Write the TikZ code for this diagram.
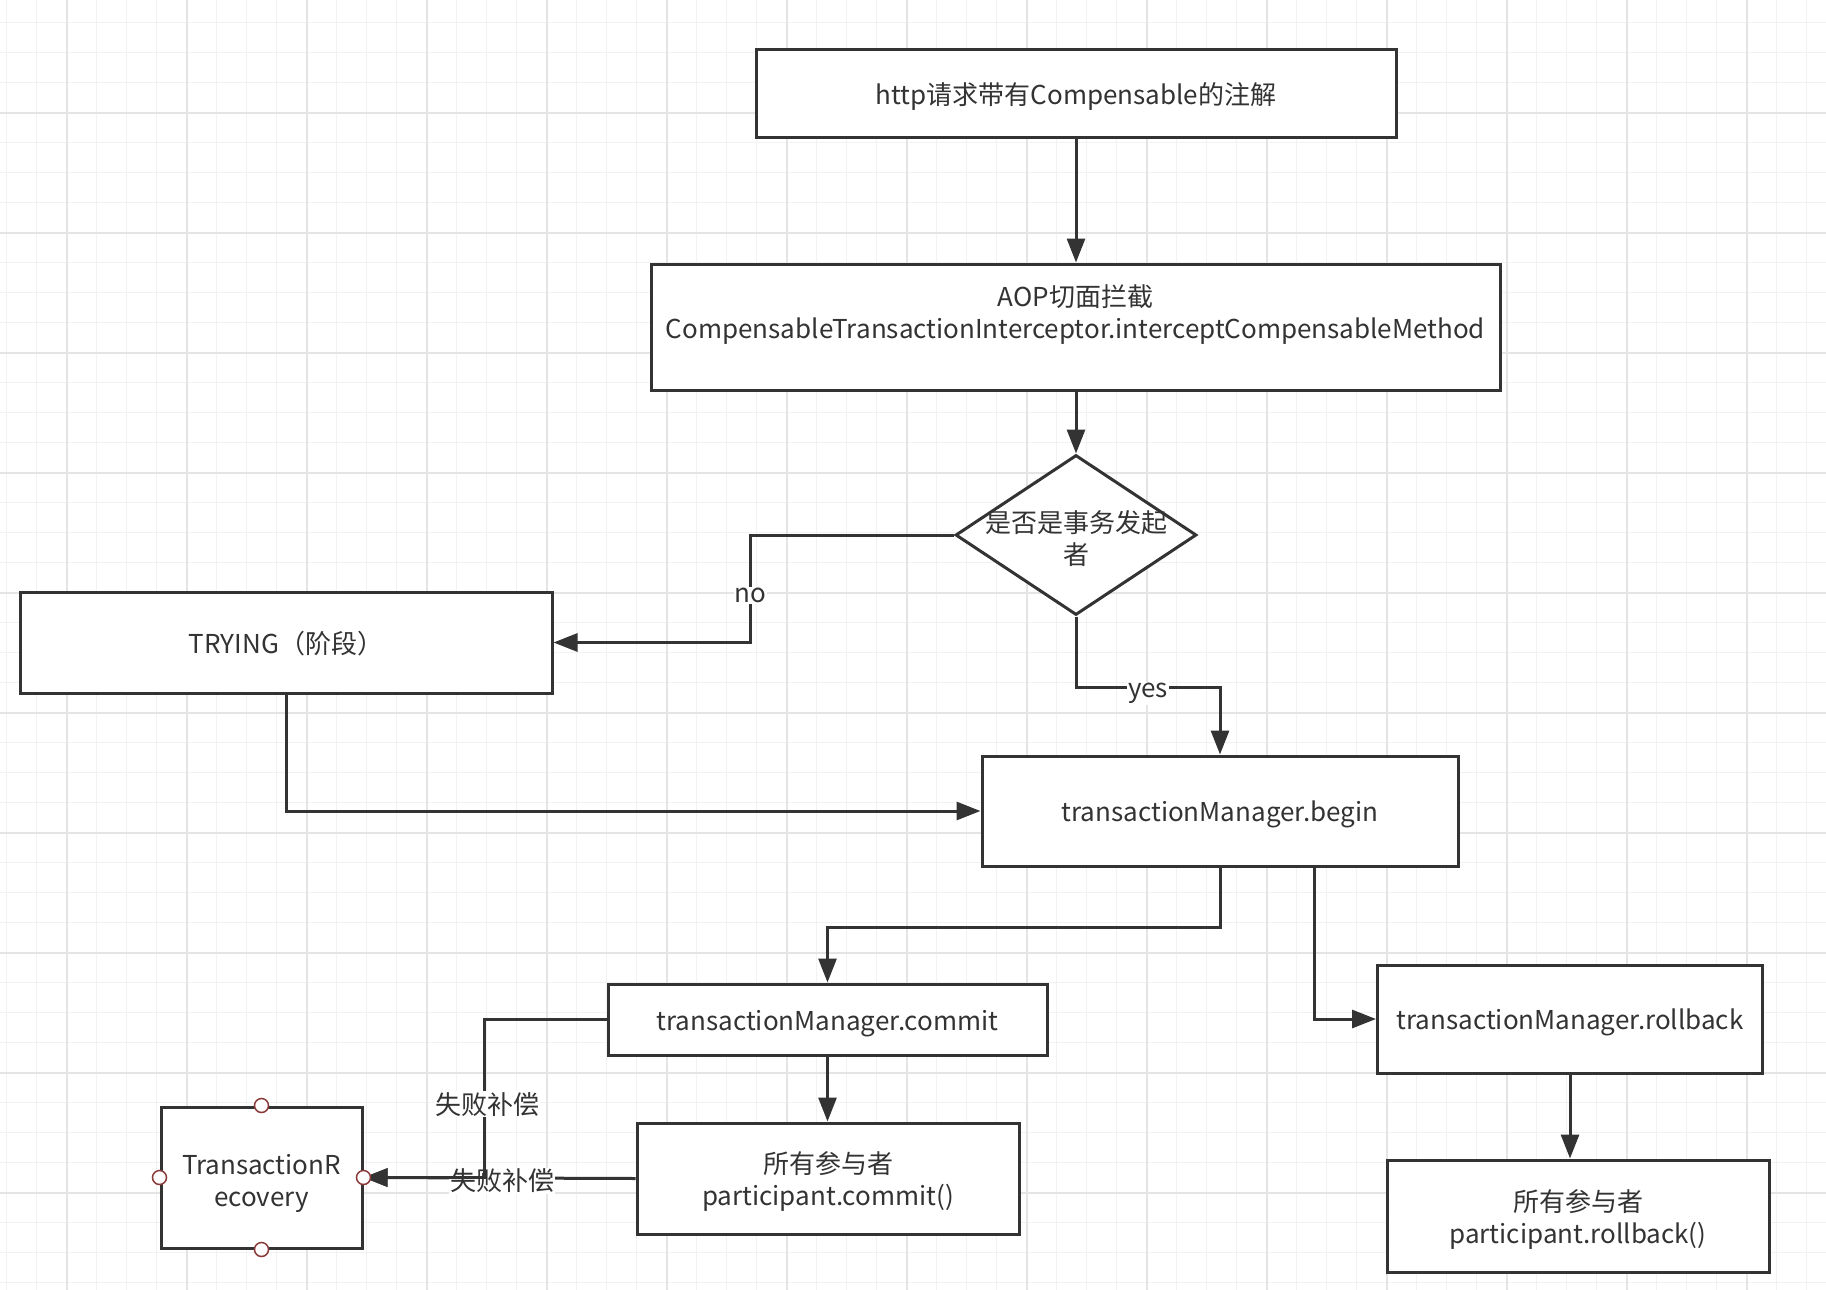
\documentclass[tikz,border=0pt]{standalone}
\usepackage{fontspec}
\setmainfont{Noto Sans CJK SC}
\usetikzlibrary{shapes.geometric,arrows.meta,calc}
\definecolor{ink}{HTML}{333333}
\definecolor{gmin}{HTML}{F2F2F2}
\definecolor{gmaj}{HTML}{E4E4E4}
\definecolor{port}{HTML}{8B3A3A}
\tikzset{
  box/.style={draw=ink, line width=3pt, fill=white, inner sep=0pt},
  tx/.style 2 args={label={[align=center, text=ink, inner sep=0pt, yshift=#1]center:#2}},
  arr/.style={draw=ink, line width=3pt, -{Triangle[length=24pt,width=18pt]}},
  lab/.style={fill=white, inner sep=1pt, text=ink},
  portc/.style={draw=port, fill=white, line width=1.5pt, circle, minimum size=14pt, inner sep=0pt}
}
\begin{document}
\begin{tikzpicture}[x=1pt, y=-1pt, font=\fontsize{26}{32}\selectfont]
\useasboundingbox (0,0) rectangle (1826,1290);
\fill[white] (0,0) rectangle (1826,1290);
% grid
\foreach \i in {0,...,60} {\pgfmathsetmacro\xx{6.7+30*\i}\draw[gmin, line width=1.5pt] (\xx,0) -- (\xx,1290);}
\foreach \i in {0,...,42} {\pgfmathsetmacro\yy{22.7+30*\i}\draw[gmin, line width=1.5pt] (0,\yy) -- (1826,\yy);}
\foreach \i in {0,...,14} {\pgfmathsetmacro\xx{66.7+120*\i}\draw[gmaj, line width=2pt] (\xx,0) -- (\xx,1290);}
\foreach \i in {0,...,9} {\pgfmathsetmacro\yy{112.7+120*\i}\draw[gmaj, line width=2pt] (0,\yy) -- (1826,\yy);}

% nodes
\node[box, minimum width=640pt, minimum height=87pt, tx={-3.5pt}{http请求带有Compensable的注解}] (http) at (1076,93.5) {};
\node[box, minimum width=849pt, minimum height=126pt, tx={12pt}{AOP切面拦截\\CompensableTransactionInterceptor.interceptCompensableMethod}] (aop) at (1075.5,327) {};
\node[box, diamond, minimum width=241pt, minimum height=160pt, tx={-4pt}{是否是事务发起\\者}] (dec) at (1076,535) {};
\node[box, minimum width=532pt, minimum height=101pt, tx={-1pt}{TRYING（阶段）}] (trying) at (286,642.5) {};
\node[box, minimum width=476pt, minimum height=110pt, tx={-3.5pt}{transactionManager.begin}] (begin) at (1220,811) {};
\node[box, minimum width=439pt, minimum height=71pt, tx={-4.5pt}{transactionManager.commit}] (commit) at (827.5,1019.5) {};
\node[box, minimum width=385pt, minimum height=108pt, tx={-3.5pt}{transactionManager.rollback}] (rollback) at (1570,1019) {};
\node[box, minimum width=382pt, minimum height=111pt, tx={-3pt}{所有参与者\\participant.commit()}] (pcommit) at (828,1178.5) {};
\node[box, minimum width=382pt, minimum height=112pt, tx={-3.5pt}{所有参与者\\participant.rollback()}] (prollback) at (1578,1216) {};
\node[box, minimum width=201pt, minimum height=141pt, tx={-5.5pt}{TransactionR\\ecovery}] (recovery) at (261.5,1177.5) {};

% connectors
\draw[arr] (http.south) -- (http.south |- aop.north);
\draw[arr] (aop.south -| dec.north) -- (dec.north);
\draw[arr] (dec.west) -| node[lab, pos=0.78] (nolab) {no} ([xshift=197pt]trying.east) -- (trying.east);
\draw[arr] (dec.south) -- ++(0,71) -| node[lab, pos=0.25, yshift=-6pt] (yeslab) {yes} (begin.north);
\draw[arr] (trying.south) |- (begin.west);
\draw[arr] (begin.south) -- ++(0,60) -| (commit.north);
\draw[arr] ([xshift=94pt]begin.south) |- (rollback.west);
\draw[arr] (commit.south) -- (commit.south |- pcommit.north);
\draw[arr] (rollback.south) -- (rollback.south |- prollback.north);
\draw[arr] (pcommit.west) -- node[lab, pos=0.49, yshift=-3pt] (fail2) {失败补偿} (recovery.east);
\draw[arr] (commit.west) -- ++(-122,0) |- node[lab, pos=0.26, xshift=2.5pt, yshift=-2.5pt] (fail1) {失败补偿} (recovery.east);

% ports
\foreach \a in {north,south,east,west} {\node[portc] at (recovery.\a) {};}
\end{tikzpicture}
\end{document}
